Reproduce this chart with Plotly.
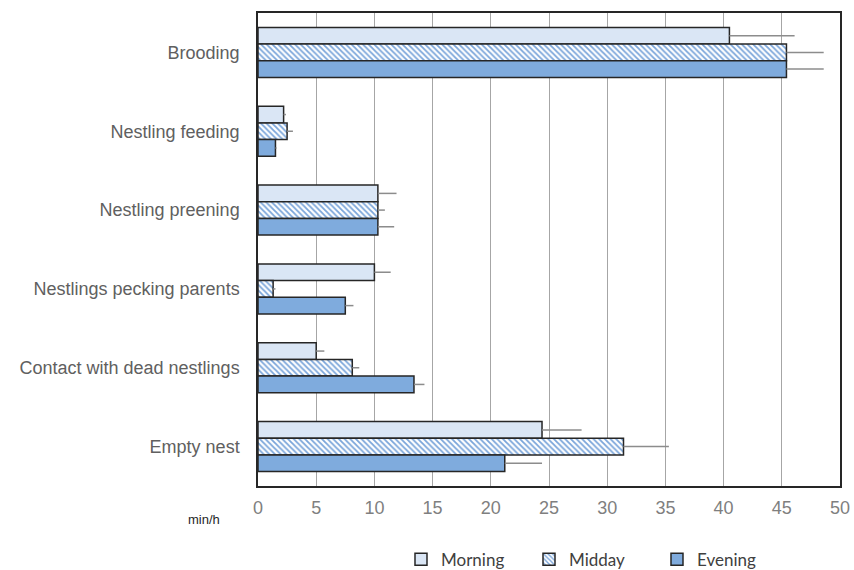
import plotly.graph_objects as go

categories = ["Brooding", "Nestling feeding", "Nestling preening",
              "Nestlings pecking parents", "Contact with dead nestlings", "Empty nest"]
series_names = ["Morning", "Midday", "Evening"]
morning = [40.5, 2.2, 10.3, 10.0, 5.0, 24.4]
morning_err = [5.6, 0.2, 1.6, 1.4, 0.7, 3.4]
midday = [45.4, 2.5, 10.3, 1.3, 8.1, 31.4]
midday_err = [3.2, 0.5, 0.6, 0.2, 0.6, 3.9]
evening = [45.4, 1.5, 10.3, 7.5, 13.4, 21.2]
evening_err = [3.2, 0.1, 1.4, 0.7, 0.9, 3.2]
x_ticks = [0, 5, 10, 15, 20, 25, 30, 35, 40, 45, 50]

edge = dict(color="#262626", width=1.5)
err_style = dict(type="data", symmetric=False, width=0, color="#8c8c8c", thickness=1.5)

fig = go.Figure()
fig.add_trace(go.Bar(
    name=series_names[0], y=categories, x=morning, orientation="h",
    marker=dict(color="#dae6f5", line=edge),
    error_x=dict(array=morning_err, arrayminus=[0]*len(morning_err), **err_style),
))
fig.add_trace(go.Bar(
    name=series_names[1], y=categories, x=midday, orientation="h",
    marker=dict(color="#ffffff", line=edge,
                pattern=dict(shape="\\", fgcolor="#7aa5da", bgcolor="#ffffff",
                             size=4, solidity=0.45, fillmode="replace")),
    error_x=dict(array=midday_err, arrayminus=[0]*len(midday_err), **err_style),
))
fig.add_trace(go.Bar(
    name=series_names[2], y=categories, x=evening, orientation="h",
    marker=dict(color="#7fabdd", line=edge),
    error_x=dict(array=evening_err, arrayminus=[0]*len(evening_err), **err_style),
))

fig.update_layout(
    width=854, height=570,
    margin=dict(l=258, r=14, t=13, b=84, autoexpand=False),
    barmode="group", bargap=0.365, bargroupgap=0,
    plot_bgcolor="white", paper_bgcolor="white",
    font=dict(family="Liberation Sans, Arial, sans-serif", color="#595959"),
    xaxis=dict(range=[0, 50], tickvals=x_ticks, showgrid=True, gridcolor="#a6a6a6",
               gridwidth=1, showline=True, linecolor="#262626", linewidth=1.5,
               mirror=True, ticks="", zeroline=False, automargin=False,
               ticklabelstandoff=5,
               tickfont=dict(size=18, color="#7f7f7f")),
    yaxis=dict(autorange="reversed", showline=True, linecolor="#262626",
               linewidth=1.5, mirror=True, ticks="", showgrid=False, automargin=False,
               tickfont=dict(size=18, color="#606060"), ticklabelstandoff=13),
    legend=dict(orientation="h", x=0.2457, xanchor="left", y=-0.156, yanchor="middle",
                font=dict(family="Lato, Open Sans, sans-serif", size=17, color="#404040"),
                entrywidth=83, entrywidthmode="pixels", traceorder="normal"),
    annotations=[dict(text="min/h", x=-0.0928, y=-0.0698, xref="paper", yref="paper",
                      showarrow=False, xanchor="center", yanchor="middle",
                      font=dict(size=13, color="#262626"))],
)

fig.write_html("out.html", config={"displayModeBar": False},
               post_script="document.body.style.margin='0';document.body.style.overflow='hidden';")
